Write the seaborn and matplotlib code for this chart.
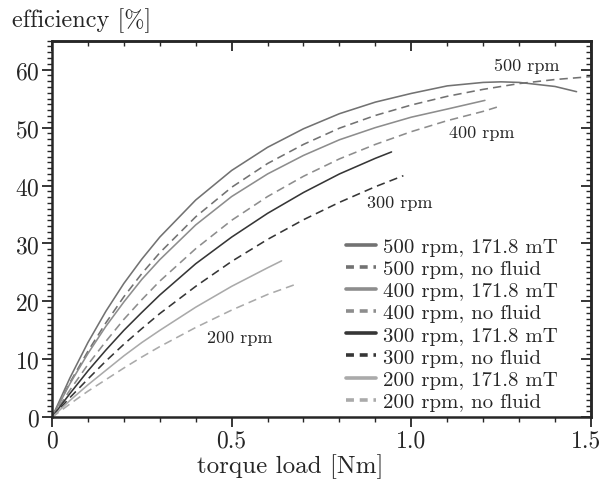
import numpy as np
import pandas as pd
import matplotlib
matplotlib.use("Agg")
import matplotlib.pyplot as plt
import matplotlib.transforms as mtransforms
from matplotlib.ticker import MultipleLocator
from matplotlib.lines import Line2D
import seaborn as sns

# torque load [Nm] and efficiency [%] for each run
x_500_mt = [0, 0.05, 0.1, 0.15, 0.2, 0.25, 0.3, 0.4, 0.5, 0.6, 0.7, 0.8, 0.9, 1.0, 1.1, 1.2, 1.25, 1.3, 1.4, 1.46]
y_500_mt = [0, 6.8, 12.9, 18.3, 23.1, 27.3, 31.1, 37.5, 42.6, 46.6, 49.8, 52.4, 54.4, 55.9, 57.2, 57.8, 57.9, 57.8, 57.1, 56.2]

x_500_nf = [0, 0.05, 0.1, 0.15, 0.2, 0.25, 0.3, 0.4, 0.5, 0.6, 0.7, 0.8, 0.9, 1.0, 1.1, 1.2, 1.3, 1.4, 1.5]
y_500_nf = [0, 6.0, 11.4, 16.3, 20.8, 24.8, 28.4, 34.6, 39.7, 43.8, 47.1, 49.9, 52.1, 53.9, 55.4, 56.6, 57.6, 58.3, 58.8]

x_400_mt = [0, 0.05, 0.1, 0.15, 0.2, 0.25, 0.3, 0.4, 0.5, 0.6, 0.7, 0.8, 0.9, 1.0, 1.1, 1.205]
y_400_mt = [0, 5.8, 11.0, 15.7, 19.9, 23.8, 27.2, 33.2, 38.1, 42.0, 45.2, 47.9, 50.0, 51.8, 53.2, 54.7]

x_400_nf = [0, 0.05, 0.1, 0.15, 0.2, 0.25, 0.3, 0.4, 0.5, 0.6, 0.7, 0.8, 0.9, 1.0, 1.1, 1.2, 1.247]
y_400_nf = [0, 4.7, 9.1, 13.1, 16.9, 20.3, 23.5, 29.1, 34.0, 38.1, 41.6, 44.6, 47.1, 49.3, 51.2, 52.8, 53.7]

x_300_mt = [0, 0.05, 0.1, 0.15, 0.2, 0.25, 0.3, 0.4, 0.5, 0.6, 0.7, 0.8, 0.9, 0.945]
y_300_mt = [0, 4.1, 8.0, 11.6, 15.0, 18.1, 21.1, 26.5, 31.1, 35.2, 38.8, 42.0, 44.7, 45.8]

x_300_nf = [0, 0.05, 0.1, 0.15, 0.2, 0.25, 0.3, 0.4, 0.5, 0.6, 0.7, 0.8, 0.9, 0.978]
y_300_nf = [0, 3.4, 6.6, 9.7, 12.6, 15.3, 17.9, 22.6, 26.9, 30.7, 34.1, 37.1, 39.8, 41.7]

x_200_mt = [0, 0.05, 0.1, 0.15, 0.2, 0.25, 0.3, 0.4, 0.5, 0.6, 0.639]
y_200_mt = [0, 2.9, 5.6, 8.1, 10.6, 12.9, 15.0, 19.0, 22.6, 25.8, 27.0]

x_200_nf = [0, 0.05, 0.1, 0.15, 0.2, 0.25, 0.3, 0.4, 0.5, 0.6, 0.676]
y_200_nf = [0, 2.3, 4.5, 6.5, 8.5, 10.4, 12.2, 15.5, 18.5, 21.2, 22.9]

labels = [
    "500 rpm, 171.8 mT", "500 rpm, no fluid",
    "400 rpm, 171.8 mT", "400 rpm, no fluid",
    "300 rpm, 171.8 mT", "300 rpm, no fluid",
    "200 rpm, 171.8 mT", "200 rpm, no fluid",
]
series_x = [x_500_mt, x_500_nf, x_400_mt, x_400_nf, x_300_mt, x_300_nf, x_200_mt, x_200_nf]
series_y = [y_500_mt, y_500_nf, y_400_mt, y_400_nf, y_300_mt, y_300_nf, y_200_mt, y_200_nf]

speed_labels = ["500 rpm", "400 rpm", "300 rpm", "200 rpm"]
speed_label_pos = [(1.322, 60.7), (1.196, 49.2), (0.969, 37.1), (0.523, 13.8)]

colors = ["#727272", "#727272", "#8d8d8d", "#8d8d8d", "#363636", "#363636", "#aaaaaa", "#aaaaaa"]
styles = ["solid", "dashed"] * 4

sns.set_style("ticks")
plt.rcParams["font.family"] = ["cmr10", "DejaVu Serif"]
plt.rcParams["mathtext.fontset"] = "cm"
plt.rcParams["axes.formatter.use_mathtext"] = True

fig = plt.figure(figsize=(6.03, 4.81), dpi=100)
ax = fig.add_axes([0.0862, 0.1304, 0.8938, 0.7829])

frames = []
for lab, xs, ys in zip(labels, series_x, series_y):
    frames.append(pd.DataFrame({"torque": xs, "eff": ys, "run": lab}))
df = pd.concat(frames, ignore_index=True)

lw = 1.15
for lab, col, st in zip(labels, colors, styles):
    sub = df[df["run"] == lab]
    sns.lineplot(data=sub, x="torque", y="eff", color=col, lw=lw,
                 estimator=None, sort=False, ax=ax, legend=False)
    line = ax.lines[-1]
    line.set_solid_joinstyle("round")
    if st == "dashed":
        line.set_dashes((5.2, 3.2))

for txt, (tx, ty) in zip(speed_labels, speed_label_pos):
    ax.text(tx, ty, txt, fontsize=13, ha="center", va="center")

ax.set_xlim(0, 1.5)
ax.set_ylim(0, 65)
ax.xaxis.set_minor_locator(MultipleLocator(0.1))
ax.yaxis.set_major_locator(MultipleLocator(10))
ax.yaxis.set_minor_locator(MultipleLocator(1))
ax.set_xticks([0, 0.5, 1.0, 1.5])
ax.set_xticklabels(["0", "0.5", "1.0", "1.5"])

for sp in ax.spines.values():
    sp.set_linewidth(1.8)
    sp.set_visible(True)

ax.tick_params(which="major", direction="out", length=7, width=1.3, labelsize=17, pad=2)
ax.tick_params(which="minor", direction="out", length=3.5, width=1.0)

# nudge the last x tick label so it stays inside the canvas
last = ax.get_xticklabels()[-1]
last.set_transform(last.get_transform() + mtransforms.ScaledTranslation(-5 / 100, 0, fig.dpi_scale_trans))

top = ax.secondary_xaxis("top")
top.xaxis.set_major_locator(MultipleLocator(0.5))
top.xaxis.set_minor_locator(MultipleLocator(0.1))
top.tick_params(which="major", direction="in", length=7, width=1.3, labeltop=False)
top.tick_params(which="minor", direction="in", length=3.5, width=1.0)
top.spines["top"].set_linewidth(1.8)

right = ax.secondary_yaxis("right")
right.yaxis.set_major_locator(MultipleLocator(10))
right.yaxis.set_minor_locator(MultipleLocator(1))
right.tick_params(which="major", direction="in", length=7, width=1.3, labelright=False)
right.tick_params(which="minor", direction="in", length=3.5, width=1.0)
right.spines["right"].set_linewidth(1.8)

ax.set_xlabel("torque load [Nm]", fontsize=18, va="center")
ax.xaxis.set_label_coords(0.443, -0.128)
ax.set_ylabel("efficiency [%]", fontsize=17.5, rotation=0, ha="left", va="center")
ax.yaxis.set_label_coords(-0.074, 1.055)

handles = [Line2D([0], [0], color=c, lw=2.6, linestyle="-" if s == "solid" else (0, (2.2, 1.6)))
           for c, s in zip(colors, styles)]
ax.legend(handles, labels, loc="lower right", bbox_to_anchor=(0.965, -0.022), frameon=False,
          fontsize=15, handlelength=1.45, handletextpad=0.3, labelspacing=0.17, borderpad=0.2)

fig.savefig("out.png", dpi=100)
